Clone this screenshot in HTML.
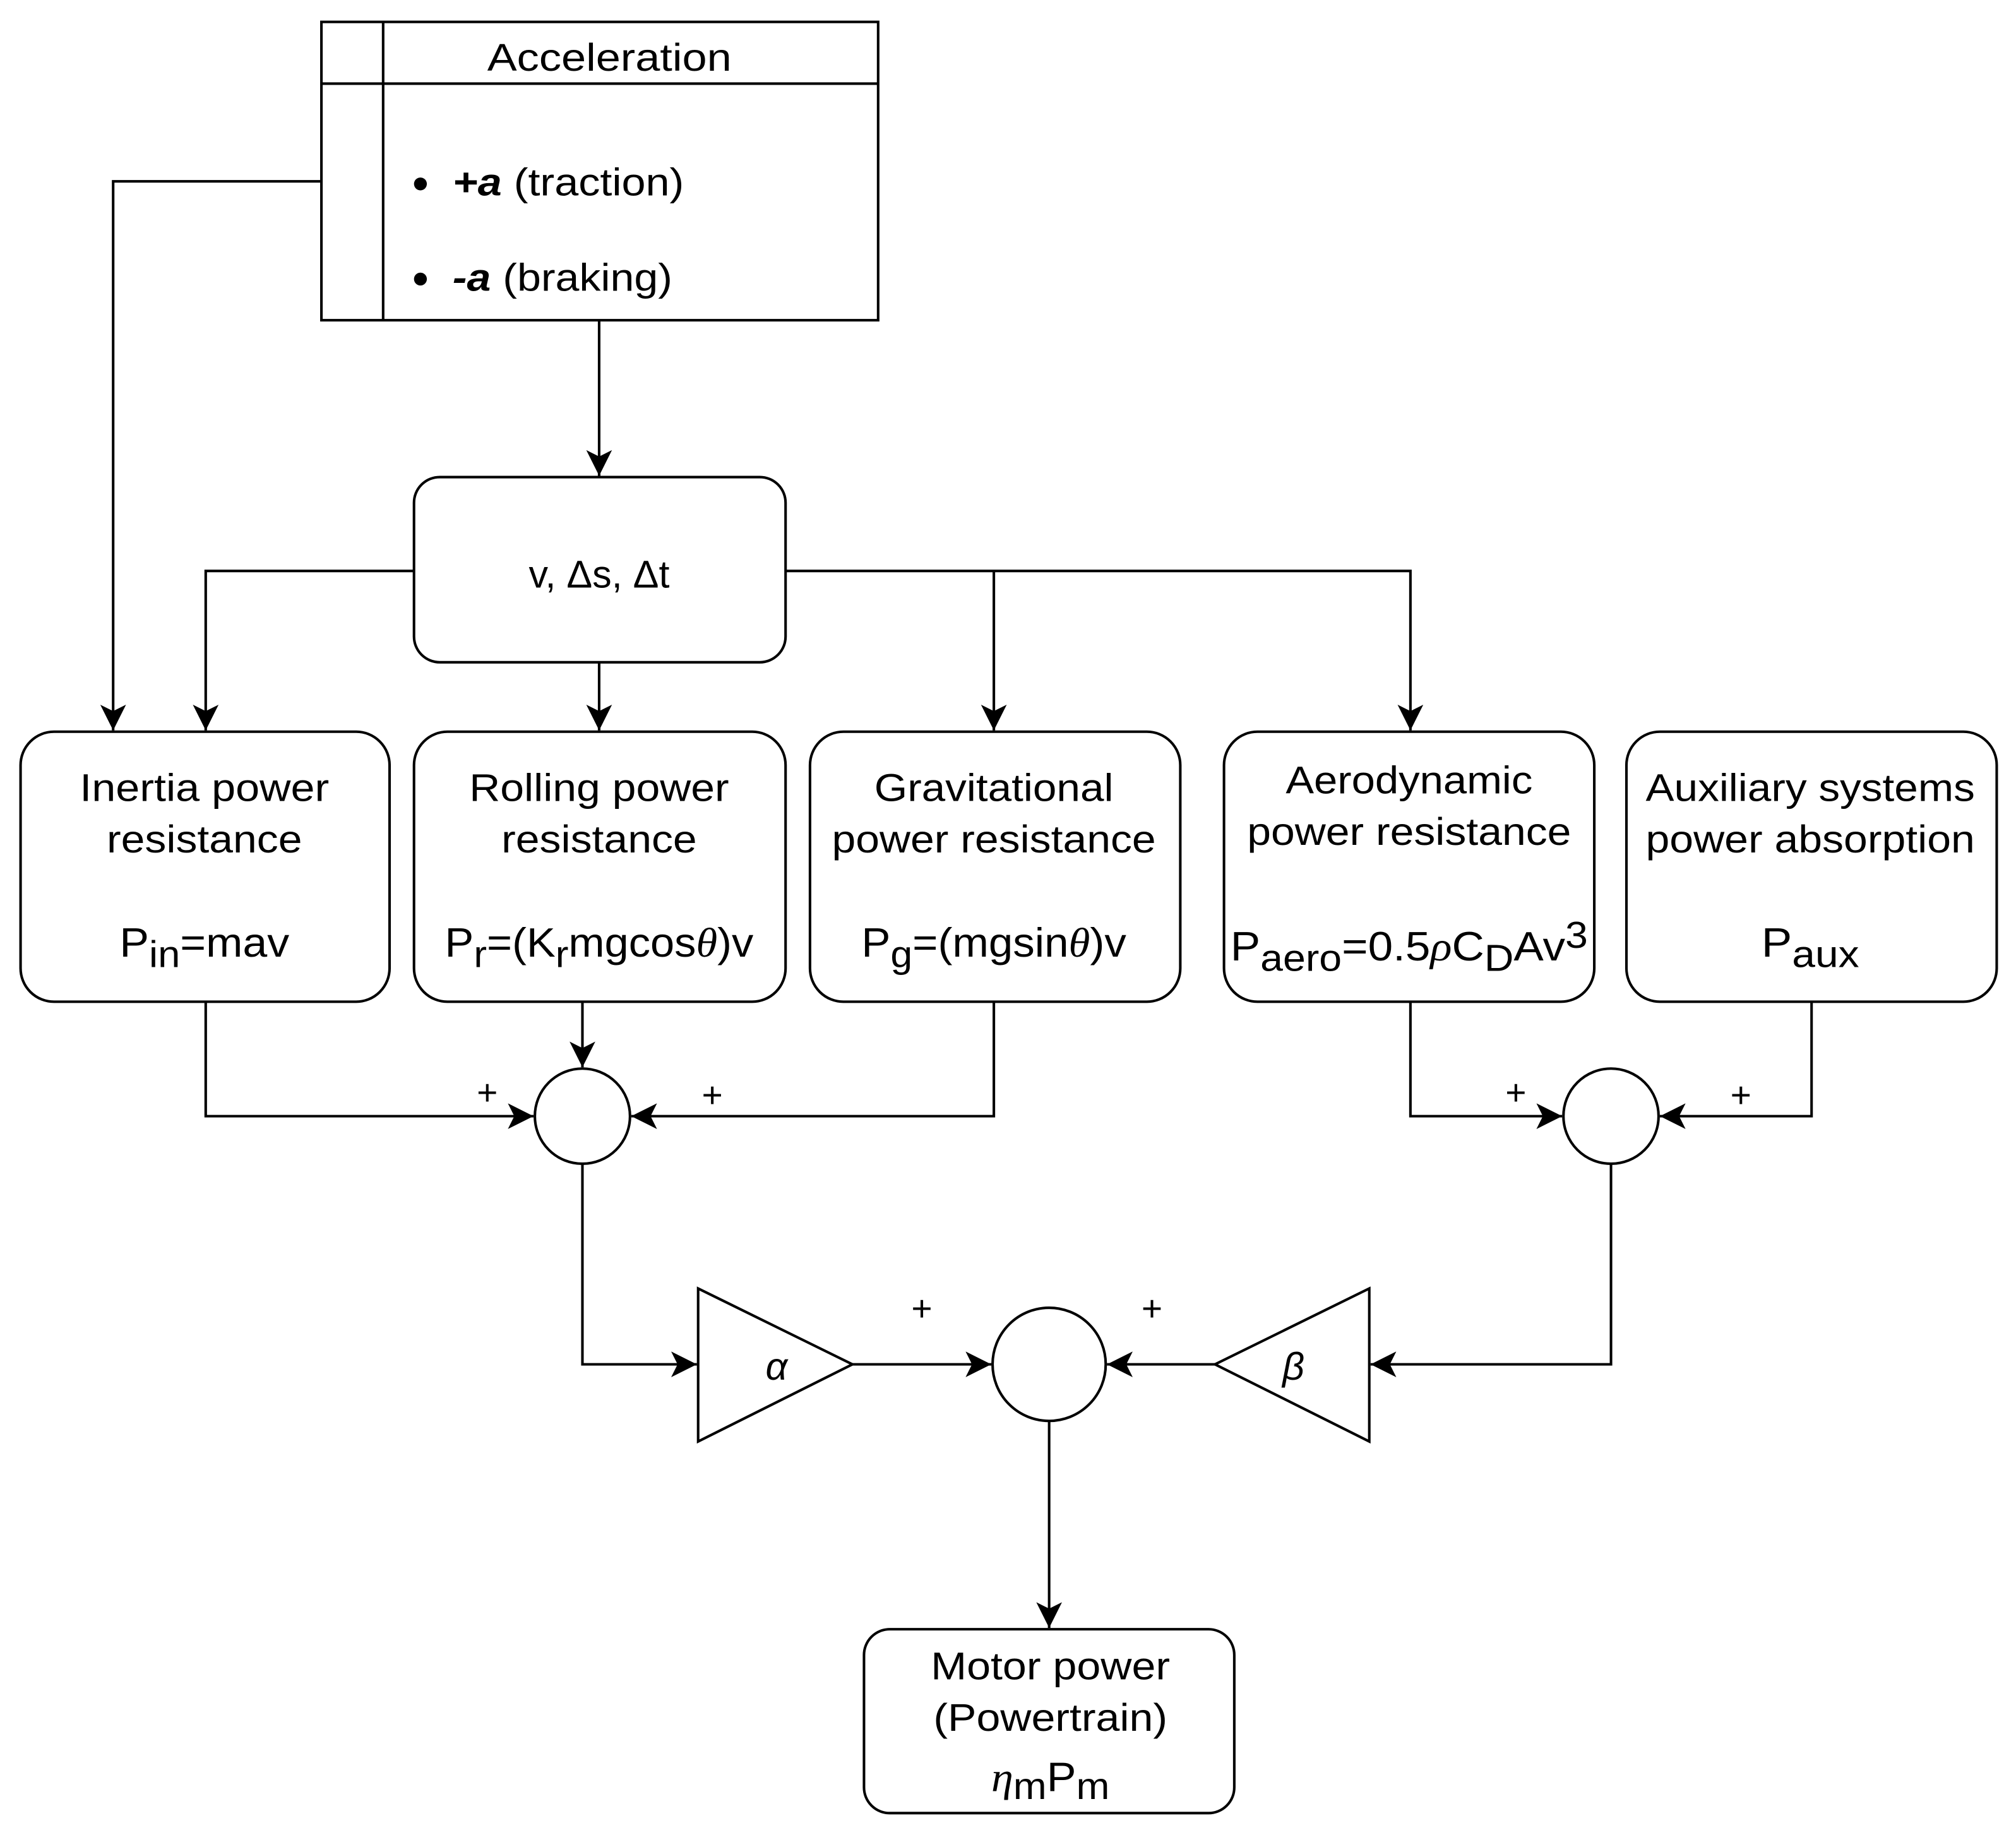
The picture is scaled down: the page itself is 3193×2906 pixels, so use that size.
<!DOCTYPE html>
<html><head><meta charset="utf-8"><style>
html,body{margin:0;padding:0;background:#fff;}
svg{display:block;}
text{font-family:"Liberation Sans",sans-serif;fill:#000;}
</style></head><body>
<svg width="3193" height="2906" viewBox="0 0 1568 1427" xmlns="http://www.w3.org/2000/svg">
<defs><marker id="a" markerWidth="20" markerHeight="20" refX="10" refY="5" orient="auto" markerUnits="userSpaceOnUse" viewBox="0 0 10 10"><path d="M0,0 L10,5 L0,10 L2.5,5 Z" fill="#000"/></marker></defs>
<g fill="none" stroke="#000" stroke-width="2">
<rect x="250" y="17" width="433" height="232"/>
<line x1="250" y1="65" x2="683" y2="65"/>
<line x1="298" y1="17" x2="298" y2="249"/>
<rect x="322" y="371" width="289" height="144" rx="20"/>
<rect x="16" y="569" width="287" height="210" rx="26"/>
<rect x="322" y="569" width="289" height="210" rx="26"/>
<rect x="630" y="569" width="288" height="210" rx="26"/>
<rect x="952" y="569" width="288" height="210" rx="26"/>
<rect x="1265" y="569" width="288" height="210" rx="26"/>
<rect x="672" y="1267" width="288" height="143" rx="20"/>
<circle cx="453" cy="868" r="37"/>
<circle cx="1253" cy="868" r="37"/>
<circle cx="816" cy="1061" r="44"/>
<polygon points="543,1002 543,1121 663,1061"/>
<polygon points="1065,1002 1065,1121 945,1061"/>
<path d="M250,141 H88 V568" marker-end="url(#a)"/>
<path d="M466,249 V370" marker-end="url(#a)"/>
<path d="M322,444 H160 V568" marker-end="url(#a)"/>
<path d="M611,444 H1097 V568" marker-end="url(#a)"/>
<path d="M773,444 V568" marker-end="url(#a)"/>
<path d="M466,515 V568" marker-end="url(#a)"/>
<path d="M160,779 V868 H415" marker-end="url(#a)"/>
<path d="M453,779 V830" marker-end="url(#a)"/>
<path d="M773,779 V868 H491" marker-end="url(#a)"/>
<path d="M1097,779 V868 H1215" marker-end="url(#a)"/>
<path d="M1409,779 V868 H1291" marker-end="url(#a)"/>
<path d="M453,905 V1061 H542" marker-end="url(#a)"/>
<path d="M663,1061 H771" marker-end="url(#a)"/>
<path d="M1253,905 V1061 H1066" marker-end="url(#a)"/>
<path d="M945,1061 H861" marker-end="url(#a)"/>
<path d="M816,1105 V1266" marker-end="url(#a)"/>
</g>
<g font-size="30" text-anchor="middle">
<text x="474" y="55" textLength="190" lengthAdjust="spacingAndGlyphs">Acceleration</text>
<text x="466" y="457">v, Δs, Δt</text>
<text x="159" y="623" textLength="194" lengthAdjust="spacingAndGlyphs">Inertia power</text>
<text x="159" y="663" textLength="152" lengthAdjust="spacingAndGlyphs">resistance</text>
<text x="159" y="744" font-size="32" textLength="132" lengthAdjust="spacingAndGlyphs">P<tspan font-size="29" dy="8">in</tspan><tspan dy="-8">=mav</tspan></text>
<text x="466" y="623" textLength="202" lengthAdjust="spacingAndGlyphs">Rolling power</text>
<text x="466" y="663" textLength="152" lengthAdjust="spacingAndGlyphs">resistance</text>
<text x="466" y="744" font-size="32" textLength="240" lengthAdjust="spacingAndGlyphs">P<tspan font-size="29" dy="8">r</tspan><tspan dy="-8">=(K</tspan><tspan font-size="29" dy="8">r</tspan><tspan dy="-8">mgcos</tspan><tspan font-family="Liberation Serif" font-style="italic">θ</tspan>)v</text>
<text x="773" y="623" textLength="186" lengthAdjust="spacingAndGlyphs">Gravitational</text>
<text x="773" y="663" textLength="252" lengthAdjust="spacingAndGlyphs">power resistance</text>
<text x="773" y="744" font-size="32" textLength="206" lengthAdjust="spacingAndGlyphs">P<tspan font-size="29" dy="8">g</tspan><tspan dy="-8">=(mgsin</tspan><tspan font-family="Liberation Serif" font-style="italic">θ</tspan>)v</text>
<text x="1096" y="617" textLength="192" lengthAdjust="spacingAndGlyphs">Aerodynamic</text>
<text x="1096" y="657" textLength="252" lengthAdjust="spacingAndGlyphs">power resistance</text>
<text x="1096" y="747" font-size="32" textLength="278" lengthAdjust="spacingAndGlyphs">P<tspan font-size="29" dy="8">aero</tspan><tspan dy="-8">=0.5</tspan><tspan font-family="Liberation Serif" font-style="italic">ρ</tspan>C<tspan font-size="29" dy="8">D</tspan><tspan dy="-8">Av</tspan><tspan font-size="29" dy="-10">3</tspan></text>
<text x="1408" y="623" textLength="256" lengthAdjust="spacingAndGlyphs">Auxiliary systems</text>
<text x="1408" y="663" textLength="256" lengthAdjust="spacingAndGlyphs">power absorption</text>
<text x="1408" y="744" font-size="32" textLength="76" lengthAdjust="spacingAndGlyphs">P<tspan font-size="29" dy="8">aux</tspan></text>
<text x="817" y="1306" textLength="186" lengthAdjust="spacingAndGlyphs">Motor power</text>
<text x="817" y="1346" textLength="182" lengthAdjust="spacingAndGlyphs">(Powertrain)</text>
<text x="817" y="1393" font-size="32" textLength="92" lengthAdjust="spacingAndGlyphs"><tspan font-family="Liberation Serif" font-style="italic">η</tspan><tspan font-size="29" dy="6">m</tspan><tspan dy="-6">P</tspan><tspan font-size="29" dy="6">m</tspan></text>
<text x="604" y="1073" font-family="Liberation Serif" font-style="italic">α</text>
<text x="1006" y="1073" font-family="Liberation Serif" font-style="italic">β</text>
</g>
<g font-size="30">
<circle cx="327" cy="143" r="5" fill="#000"/>
<text x="352" y="152" textLength="180" lengthAdjust="spacingAndGlyphs"><tspan font-weight="bold" font-style="italic">+a</tspan> (traction)</text>
<circle cx="327" cy="217" r="5" fill="#000"/>
<text x="352" y="226" textLength="171" lengthAdjust="spacingAndGlyphs"><tspan font-weight="bold" font-style="italic">-a</tspan> (braking)</text>
</g>
<g font-size="28" text-anchor="middle">
<text x="379" y="859">+</text>
<text x="554" y="861">+</text>
<text x="1179" y="859">+</text>
<text x="1354" y="861">+</text>
<text x="717" y="1027">+</text>
<text x="896" y="1027">+</text>
</g>
</svg>
</body></html>
